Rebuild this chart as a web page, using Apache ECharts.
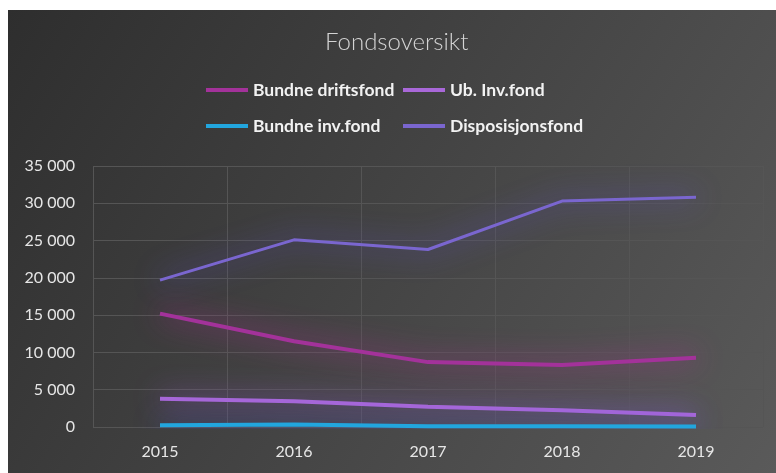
<!DOCTYPE html>
<html>
<head>
<meta charset="utf-8">
<script src="https://cdn.jsdelivr.net/npm/echarts@6/dist/echarts.min.js"></script>
<style>
    body { margin: 0; background: #fff; }
    #chart { position: absolute; left: 8px; top: 10px; width: 768px; height: 463px; }
</style>
</head>
<body>
<div id="chart"></div>
<script>
    const years = ['2015', '2016', '2017', '2018', '2019'];
    const bundneDriftsfond = [15200, 11500, 8700, 8300, 9300];
    const ubInvFond = [3800, 3450, 2700, 2250, 1600];
    const bundneInvFond = [250, 350, 100, 100, 60];
    const disposisjonsfond = [19700, 25100, 23800, 30300, 30800];

    const chart = echarts.init(document.getElementById('chart'));

    function glowLine (name, data, color, glow, width) {
        return {
            name: name,
            type: 'line',
            data: data,
            symbol: 'none',
            itemStyle: { color: color },
            lineStyle: {
                color: color,
                width: width,
                shadowBlur: 28,
                shadowColor: glow
            }
        };
    }

    const option = {
        backgroundColor: new echarts.graphic.LinearGradient(0, 0, 1, 1, [
            { offset: 0, color: '#2e2e2e' },
            { offset: 1, color: '#5a5a5a' }
        ]),
        textStyle: { fontFamily: 'Lato, sans-serif' },
        title: {
            text: 'Fondsoversikt',
            left: 312,
            top: 15,
            textStyle: { color: '#d4d4d4', fontSize: 24, fontWeight: 300, fontFamily: 'Lato' }
        },
        legend: {
            left: 193,
            top: 60,
            width: 400,
            itemWidth: 42,
            itemHeight: 4,
            itemGap: 6,
            icon: 'rect',
            textStyle: {
                color: '#f2f2f2',
                fontSize: 17.5,
                fontWeight: 'bold',
                width: 144,
                lineHeight: 30
            },
            data: ['Bundne driftsfond', 'Ub. Inv.fond', 'Bundne inv.fond', 'Disposisjonsfond']
        },
        grid: { left: 85, right: 13, top: 156, bottom: 46 },
        xAxis: {
            type: 'category',
            data: years,
            axisLine: { show: false },
            axisTick: { show: false },
            axisLabel: { color: '#e6e6e6', fontSize: 16, margin: 17 },
            splitLine: { show: true, lineStyle: { color: '#555' } }
        },
        yAxis: {
            type: 'value',
            min: 0,
            max: 35000,
            interval: 5000,
            axisLabel: {
                color: '#e6e6e6',
                fontSize: 16,
                margin: 18,
                formatter: v => String(v).replace(/\B(?=(\d{3})+(?!\d))/g, ' ')
            },
            splitLine: { lineStyle: { color: '#555' } }
        },
        series: [
            glowLine('Bundne driftsfond', bundneDriftsfond, '#a3329a', 'rgba(200,40,170,1)', 4),
            glowLine('Ub. Inv.fond', ubInvFond, '#a968d9', 'rgba(170,90,230,1)', 4),
            glowLine('Bundne inv.fond', bundneInvFond, '#22a6de', 'rgba(70,80,220,1)', 4),
            glowLine('Disposisjonsfond', disposisjonsfond, '#7a66cf', 'rgba(100,80,230,1)', 3)
        ]
    };

    chart.setOption(option);
</script>
</body>
</html>
